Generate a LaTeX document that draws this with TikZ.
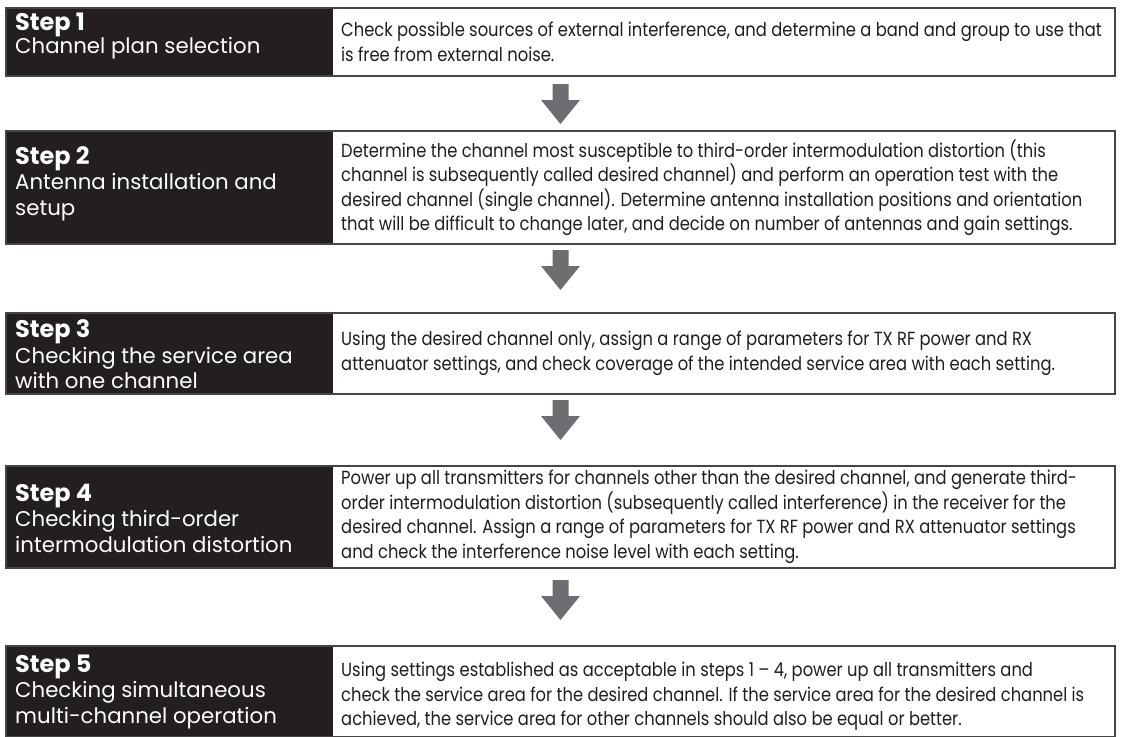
\documentclass[tikz,border=0pt]{standalone}
\usepackage{fontspec}
\setmainfont{Poppins}
\newfontfamily\bodyfont[FakeStretch=0.86]{Poppins}
\usetikzlibrary{calc}
\definecolor{darkfill}{HTML}{231F20}
\definecolor{framegray}{HTML}{454547}
\definecolor{arrowgray}{HTML}{6D6E71}
\tikzset{
  frame/.style={draw=framegray, line width=1.4pt, fill=white, minimum width=1109pt, outer sep=0pt, inner sep=0pt},
  frameline/.style={draw=framegray, line width=1.4pt},
  steplabel/.style={text=white, anchor=west, align=left, inner sep=0pt, font=\fontsize{21.3}{25.5}\selectfont},
  stepbody/.style={text=black!88, anchor=west, align=left, inner sep=0pt, font=\bodyfont\fontsize{19}{24.5}\selectfont},
  downarrow/.pic={\fill[arrowgray] (-8,0) -- (8,0) -- (8,16) -- (19.5,16) -- (0,40) -- (-19.5,16) -- (-8,16) -- cycle;}
}
\newcommand{\stepbox}[3]{% name, top, bottom
  \node[frame, minimum height={#3-#2}] (#1) at (560.5,{(#2+#3)/2}) {};
  \fill[darkfill] (#1.north west) rectangle ([xshift=327pt]#1.south west);
  \draw[frameline] (#1.north west) rectangle (#1.south east);
}
\newcommand{\stephead}[1]{{\fontsize{24}{25.5}\selectfont\bfseries #1}}
\begin{document}
\begin{tikzpicture}[x=1pt,y=-1pt]
\useasboundingbox (0,0) rectangle (1121,736);
\stepbox{f1}{8}{76}
\stepbox{f2}{131}{244}
\stepbox{f3}{313}{394}
\stepbox{f4}{466}{568}
\stepbox{f5}{646}{737}

\node[steplabel] (l1) at ([xshift=9pt,yshift=6pt]f1.west) {\stephead{Step 1}\\[-3pt]Channel plan selection};
\node[steplabel] (l2) at ([xshift=9pt,yshift=4pt]f2.west) {\stephead{Step 2}\\Antenna installation and\\setup};
\node[steplabel] (l3) at ([xshift=9pt,yshift=-1pt]f3.west) {\stephead{Step 3}\\Checking the service area\\with one channel};
\node[steplabel] (l4) at ([xshift=9pt,yshift=-1pt]f4.west) {\stephead{Step 4}\\Checking third-order\\intermodulation distortion};
\node[steplabel] (l5) at ([xshift=9pt,yshift=0pt]f5.west) {\stephead{Step 5}\\Checking simultaneous\\multi-channel operation};

\node[stepbody] (t1) at ([xshift=335pt]f1.west) {Check possible sources of external interference, and determine a band and group to use that\\is free from external noise.};
\node[stepbody] (t2) at ([xshift=335pt]f2.west) {Determine the channel most susceptible to third-order intermodulation distortion (this\\channel is subsequently called desired channel) and perform an operation test with the\\desired channel (single channel). Determine antenna installation positions and orientation\\that will be difficult to change later, and decide on number of antennas and gain settings.};
\node[stepbody] (t3) at ([xshift=335pt]f3.west) {Using the desired channel only, assign a range of parameters for TX RF power and RX\\attenuator settings, and check coverage of the intended service area with each setting.};
\node[stepbody] (t4) at ([xshift=335pt]f4.west) {Power up all transmitters for channels other than the desired channel, and generate third-\\order intermodulation distortion (subsequently called interference) in the receiver for the\\desired channel. Assign a range of parameters for TX RF power and RX attenuator settings\\and check the interference noise level with each setting.};
\node[stepbody] (t5) at ([xshift=335pt,yshift=-5pt]f5.west) {Using settings established as acceptable in steps 1 – 4, power up all transmitters and\\check the service area for the desired channel. If the service area for the desired channel is\\achieved, the service area for other channels should also be equal or better.};

\pic at ($(f1.south)+(0,8)$) {downarrow};
\pic at ($(f2.south)+(0,6)$) {downarrow};
\pic at ($(f3.south)+(0,6)$) {downarrow};
\pic at ($(f4.south)+(0,12)$) {downarrow};
\end{tikzpicture}
\end{document}
